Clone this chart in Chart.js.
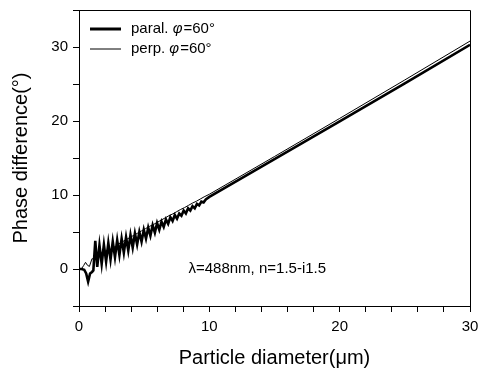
<!DOCTYPE html>
<html>
<head>
<meta charset="utf-8">
<script src="https://cdn.jsdelivr.net/npm/chart.js@4"></script>
<style>
  html, body { margin: 0; padding: 0; background: #fff; }
  #wrap { width: 479px; height: 370px; position: relative; }
</style>
</head>
<body>
<div id="wrap"><canvas id="chart"></canvas></div>
<script>
// particle diameter (um) vs phase difference (deg)
const paralX = [0, 0.2, 0.4, 0.55, 0.7, 0.85, 1.0, 1.1, 1.25, 1.4, 1.57, 1.74, 1.91, 2.08, 2.25, 2.42, 2.59, 2.76, 2.93, 3.1, 3.27, 3.44, 3.61, 3.78, 3.95, 4.12, 4.29, 4.46, 4.63, 4.8, 4.97, 5.14, 5.31, 5.48, 5.65, 5.82, 5.99, 6.16, 6.33, 6.5, 6.67, 6.84, 7.01, 7.18, 7.35, 7.52, 7.69, 7.86, 8.03, 8.2, 8.37, 8.54, 8.71, 8.88, 9.05, 9.22, 9.39, 9.56, 9.73, 10, 15, 20, 25, 30];
const paralY = [0, 0, -0.1, -0.6, -1.7, -0.6, -0.4, -0.2, 3.8, 0.3, 3.2, 0.7, 3.3, 1.0, 3.5, 1.3, 3.7, 1.6, 3.9, 1.9, 4.1, 2.2, 4.3, 2.5, 4.6, 2.9, 4.8, 3.3, 5.0, 3.7, 5.3, 4.1, 5.6, 4.5, 5.9, 4.9, 6.2, 5.3, 6.4, 5.7, 6.7, 6.1, 7.0, 6.5, 7.3, 6.8, 7.5, 7.2, 7.9, 7.5, 8.2, 7.9, 8.5, 8.2, 8.8, 8.6, 9.1, 9.0, 9.4, 9.75, 14.85, 19.95, 25.1, 30.3];
const perpX = [0, 0.2, 0.35, 0.5, 0.65, 0.8, 1.0, 1.2, 1.4, 1.6, 1.8, 2.0, 2.2, 2.4, 2.6, 2.8, 3.0, 3.3, 3.6, 3.9, 4.2, 4.5, 4.8, 5.1, 5.4, 5.7, 6.0, 6.3, 6.6, 6.9, 7.2, 7.5, 7.8, 8.1, 8.4, 8.7, 9.0, 9.3, 9.6, 10, 15, 20, 25, 30];
const perpY = [0, 0.05, 0.45, 0.9, 0.5, 0.35, 1.4, 1.25, 1.9, 1.75, 2.35, 2.2, 2.7, 2.6, 3.05, 2.95, 3.35, 3.65, 3.95, 4.25, 4.55, 4.85, 5.15, 5.45, 5.75, 6.0, 6.3, 6.6, 6.9, 7.2, 7.45, 7.75, 8.05, 8.3, 8.6, 8.9, 9.15, 9.45, 9.75, 10.1, 15.2, 20.35, 25.55, 30.8];

const xLabels = [0, 10, 20, 30];
const yLabels = [0, 10, 20, 30];

const FONT = "'Liberation Sans', Arial, sans-serif";
const INK = "#000";

function toPoints(xs, ys) {
  return xs.map((x, i) => ({ x, y: ys[i] }));
}

// frame on top/right, legend and note drawn inside the plot
const extras = {
  id: "extras",
  afterDraw(chart) {
    const { ctx, chartArea: a, scales } = chart;
    ctx.save();
    ctx.strokeStyle = INK;
    ctx.lineWidth = 1;
    ctx.beginPath();
    ctx.moveTo(a.left, a.top + 0.5);
    ctx.lineTo(a.right + 0.5, a.top + 0.5);
    ctx.lineTo(a.right + 0.5, a.bottom);
    ctx.stroke();

    const rows = [
      { name: "paral. ", width: 3, y: 29 },
      { name: "perp. ", width: 1, y: 49 },
    ];
    ctx.fillStyle = INK;
    ctx.textBaseline = "middle";
    rows.forEach((r) => {
      ctx.lineWidth = r.width;
      ctx.beginPath();
      ctx.moveTo(90, r.y);
      ctx.lineTo(121, r.y);
      ctx.stroke();
      let x = 131;
      ctx.font = `15px ${FONT}`;
      ctx.fillText(r.name, x, r.y);
      x += ctx.measureText(r.name).width;
      ctx.font = `italic 15px ${FONT}`;
      ctx.fillText("\u03c6", x, r.y);
      x += ctx.measureText("\u03c6").width + 1;
      ctx.font = `15px ${FONT}`;
      ctx.fillText("=60\u00b0", x, r.y);
    });

    ctx.font = `15px ${FONT}`;
    ctx.fillText("\u03bb=488nm, n=1.5-i1.5", scales.x.getPixelForValue(8.4), scales.y.getPixelForValue(0));
    ctx.restore();
  },
};

new Chart(document.getElementById("chart"), {
  type: "line",
  data: {
    datasets: [
      {
        label: "paral. \u03c6=60\u00b0",
        data: toPoints(paralX, paralY),
        borderColor: INK,
        borderWidth: 2.6,
        pointRadius: 0,
        tension: 0,
      },
      {
        label: "perp. \u03c6=60\u00b0",
        data: toPoints(perpX, perpY),
        borderColor: INK,
        borderWidth: 1,
        pointRadius: 0,
        tension: 0,
      },
    ],
  },
  options: {
    responsive: true,
    maintainAspectRatio: false,
    animation: false,
    layout: { padding: { top: 10, right: 9, left: 0, bottom: 0 } },
    plugins: {
      legend: { display: false },
      tooltip: { enabled: false },
    },
    scales: {
      x: {
        type: "linear",
        min: 0,
        max: 30,
        afterFit: (s) => {
          s.height = 64;
          s.paddingLeft = 0;
          s.paddingRight = 0;
        },
        ticks: {
          stepSize: 2,
          color: INK,
          padding: 6,
          maxRotation: 0,
          autoSkip: false,
          font: { family: FONT, size: 15 },
          callback: (v) => (xLabels.includes(v) ? String(v) : ""),
        },
        grid: { drawOnChartArea: false, tickLength: 6, tickColor: INK },
        border: { color: INK, width: 1 },
        title: {
          display: true,
          text: "Particle diameter(\u03bcm)",
          color: INK,
          font: { family: FONT, size: 20 },
          padding: { top: 0, bottom: 0 },
        },
      },
      y: {
        min: -5,
        max: 35,
        afterFit: (s) => {
          s.width = 79;
          s.paddingTop = 0;
          s.paddingBottom = 0;
        },
        ticks: {
          stepSize: 5,
          color: INK,
          padding: 5,
          autoSkip: false,
          font: { family: FONT, size: 15 },
          callback: (v) => (yLabels.includes(v) ? String(v) : ""),
        },
        grid: { drawOnChartArea: false, tickLength: 6, tickColor: INK },
        border: { color: INK, width: 1 },
        title: {
          display: true,
          text: "Phase difference(\u00b0)",
          color: INK,
          font: { family: FONT, size: 20 },
          padding: { top: 9, bottom: 0 },
        },
      },
    },
  },
  plugins: [extras],
});
</script>
</body>
</html>
